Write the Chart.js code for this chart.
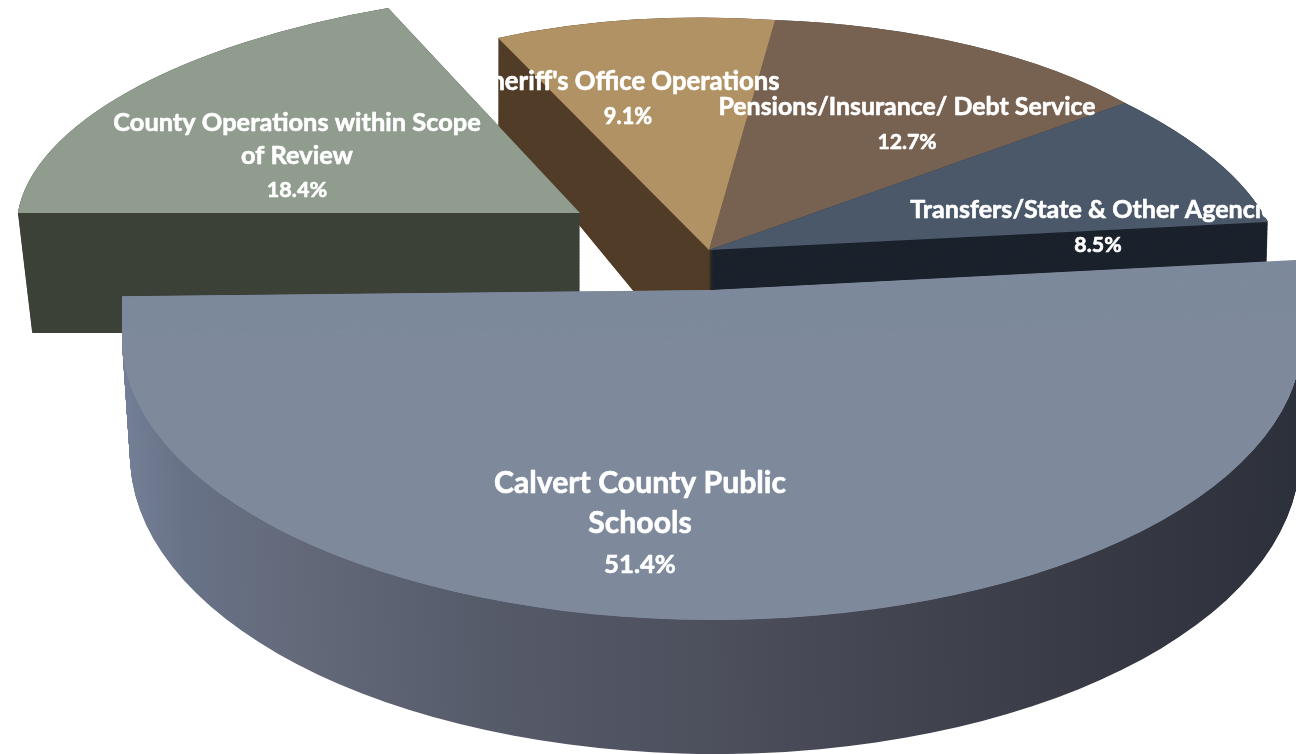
<!DOCTYPE html>
<html>
<head>
<meta charset="utf-8">
<style>
  html, body { margin: 0; padding: 0; background: #ffffff; overflow: hidden; }
  canvas { display: block; }
</style>
<script src="https://cdn.jsdelivr.net/npm/chart.js@4"></script>
</head>
<body>
<canvas id="budget" width="1296" height="754"></canvas>
<script>
// Share of the county budget by spending area
const categories = [
  "Calvert County Public Schools",
  "County Operations within Scope of Review",
  "Sheriff's Office Operations",
  "Pensions/Insurance/ Debt Service",
  "Transfers/State & Other Agencies"
];
const shares = [51.4, 18.4, 9.1, 12.7, 8.5];

// Line breaks for the wrapped slice captions
const captionLines = [
  ["Calvert County Public", "Schools"],
  ["County Operations within Scope", "of Review"],
  ["Sheriff's Office Operations"],
  ["Pensions/Insurance/ Debt Service"],
  ["Transfers/State & Other Agencies"]
];

// Caption anchors: centre x, first baseline y, line height, font size
const captionPlacement = [
  [640, 493, 40, 30.2],
  [297, 131, 33, 25.4],
  [628, 90, 34, 25.7],
  [907, 115, 34, 24.9],
  [1098, 218, 34, 25.1]
];
const percentScale = 0.85;

const topColors = ["#7e8a9c", "#8f9c8e", "#b09264", "#776252", "#4a586a"];
const wallColors = [null, "#3c4239", "#503c27", "#5a4a3e", "#1b222c"];
const schoolWallStops = [
  [0, "#737f96"], [0.05, "#687287"], [0.15, "#636979"], [0.32, "#555a69"],
  [0.49, "#4d505d"], [0.66, "#424550"], [0.85, "#363943"], [1, "#2c303b"]
];

// Per-slice tilt, as [xx, xy, yx, yy, originX, originY] for a unit-radius pie.
// "rim" is the upper face; "base" the lower end of the side wall;
// "crown" (schools only) widens the upper face towards the viewer.
const sliceTilt = [
  { crown: [590, -7, 0, 282, 712, 290], rim: [590, 0, 0, 282, 712, 338], base: [585, 0, 0, 299, 715, 455] },
  { rim: [562.3, -0.6, -37, 224.1, 580, 213], base: [548, -0.6, -36, 224.1, 580, 333] },
  { rim: [497.2, -2.3, 12.3, 232.6, 709, 250], base: [497.2, -2.8, 12.3, 281, 709, 383] },
  { rim: [521, -17.3, 16.1, 230.2, 709, 250], base: [521, -21, 16.1, 278, 709, 383] },
  { rim: [567.6, -8.06, 82.2, 243.1, 709, 250], base: [564, -9.7, 82.2, 294, 709, 383] }
];

const blend = (p, q, t) => p.map((v, i) => v + (q[i] - v) * t);

function paintArc(ctx, arc, tilt, fill) {
  const R = arc.outerRadius;
  const [xx, xy, yx, yy, ox, oy] = tilt;
  const face = Object.create(arc);
  face.options = Object.assign({}, arc.options, { backgroundColor: fill, borderWidth: 0 });
  ctx.save();
  ctx.transform(xx / R, xy / R, yx / R, yy / R,
    ox - (xx * arc.x + yx * arc.y) / R,
    oy - (xy * arc.x + yy * arc.y) / R);
  arc.draw.call(face, ctx);
  ctx.restore();
}

function sweep(ctx, arc, from, to, fill) {
  const steps = 160;
  for (let s = 0; s <= steps; s++) {
    paintArc(ctx, arc, blend(from, to, s / steps), fill);
  }
}

function wallFill(ctx, arc, index) {
  if (wallColors[index]) return wallColors[index];
  const g = ctx.createLinearGradient(arc.x - arc.outerRadius, 0, arc.x + arc.outerRadius, 0);
  schoolWallStops.forEach(([at, color]) => g.addColorStop(at, color));
  return g;
}

// Back slices first, then the county wedge, with the schools slice nearest the viewer
const pie3d = {
  id: "pie3d",
  beforeDatasetsDraw(chart) {
    const ctx = chart.ctx;
    const arcs = chart.getDatasetMeta(0).data;
    const wall = i => sweep(ctx, arcs[i], sliceTilt[i].base, sliceTilt[i].rim, wallFill(ctx, arcs[i], i));
    const top = i => paintArc(ctx, arcs[i], sliceTilt[i].rim, topColors[i]);
    [3, 2, 4].forEach(wall);
    [3, 2, 4].forEach(top);
    wall(1); top(1);
    wall(0);
    sweep(ctx, arcs[0], sliceTilt[0].crown, sliceTilt[0].rim, topColors[0]);
    return false;
  },
  afterDraw(chart) {
    const ctx = chart.ctx;
    ctx.save();
    ctx.fillStyle = "#ffffff";
    ctx.strokeStyle = "#ffffff";
    ctx.lineWidth = 0.6;
    ctx.lineJoin = "round";
    ctx.textAlign = "center";
    ctx.textBaseline = "alphabetic";
    const put = (text, x, y, size) => {
      ctx.font = `bold ${size}px Lato, "Open Sans", sans-serif`;
      ctx.fillText(text, x, y);
      ctx.strokeText(text, x, y);
    };
    shares.forEach((share, i) => {
      const [x, y, leading, size] = captionPlacement[i];
      const lines = captionLines[i];
      lines.forEach((line, n) => put(line, x, y + n * leading, size));
      put(`${share}%`, x, y + lines.length * leading, size * percentScale);
    });
    ctx.restore();
  }
};

new Chart(document.getElementById("budget"), {
  type: "pie",
  data: {
    labels: categories,
    datasets: [{ data: shares, backgroundColor: topColors, borderWidth: 0 }]
  },
  options: {
    responsive: false,
    animation: false,
    events: [],
    rotation: 85.3,
    layout: { padding: 0 },
    plugins: { legend: { display: false }, tooltip: { enabled: false }, title: { display: false } }
  },
  plugins: [pie3d]
});
</script>
</body>
</html>
